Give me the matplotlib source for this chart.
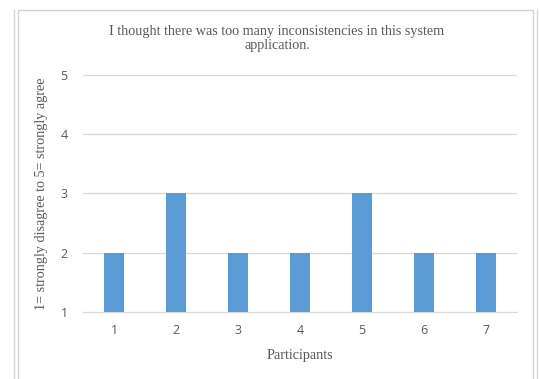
import matplotlib.pyplot as plt
from matplotlib.lines import Line2D

# survey answers per participant (1-5 Likert)
participants = ['1', '2', '3', '4', '5', '6', '7']
scores = [2, 3, 2, 2, 3, 2, 2]
yticks = [1, 2, 3, 4, 5]

title = 'I thought there was too many inconsistencies in this system\napplication.'
ylabel = '1= strongly disagree to 5= strongly agree'
xlabel = 'Participants'

serif = ['Liberation Serif', 'DejaVu Serif']
sans = ['Open Sans', 'DejaVu Sans']
txt = '#595959'

fig = plt.figure(figsize=(5.39, 3.79), dpi=100)
W, H = 539, 379

# chart frame (light gray double border)
frame_col = '#d4d4d4'
for x in (14, 18):
    fig.add_artist(Line2D([x / W, x / W], [0, 1 - 10 / H], color=frame_col, lw=1.0))
for x in (533, 537):
    fig.add_artist(Line2D([x / W, x / W], [0, 1 - 10 / H], color=frame_col, lw=1.0))
fig.add_artist(Line2D([18 / W, 533 / W], [1 - 10 / H, 1 - 10 / H], color=frame_col, lw=1.0))

ax = fig.add_axes([83 / W, 1 - 312 / H, 434 / W, 237 / H])
x = range(len(participants))
ax.bar(x, scores, width=0.31, color='#5B9BD5', zorder=3)

ax.set_ylim(1, 5)
ax.set_xlim(-0.5, len(participants) - 0.5)
ax.set_yticks(yticks)
ax.set_xticks(list(x))
ax.set_xticklabels(participants)
ax.grid(axis='y', color='#d9d9d9', lw=0.9, zorder=0)
for s in ['top', 'right', 'left']:
    ax.spines[s].set_visible(False)
ax.spines['bottom'].set_color('#d9d9d9')
ax.tick_params(length=0, colors=txt, labelsize=9)
ax.tick_params(axis='y', pad=11)
ax.tick_params(axis='x', pad=9)
for lab in ax.get_xticklabels() + ax.get_yticklabels():
    lab.set_family(sans)

fig.text(277 / W, 1 - 38.5 / H, title, ha='center', va='center', family=serif,
         fontsize=10.2, color=txt, linespacing=1.2)
ax.set_ylabel(ylabel, family=serif, fontsize=10.2, color=txt, labelpad=9)
ax.set_xlabel(xlabel, family=serif, fontsize=10.2, color=txt, labelpad=8)

fig.savefig('out.png', dpi=100)
